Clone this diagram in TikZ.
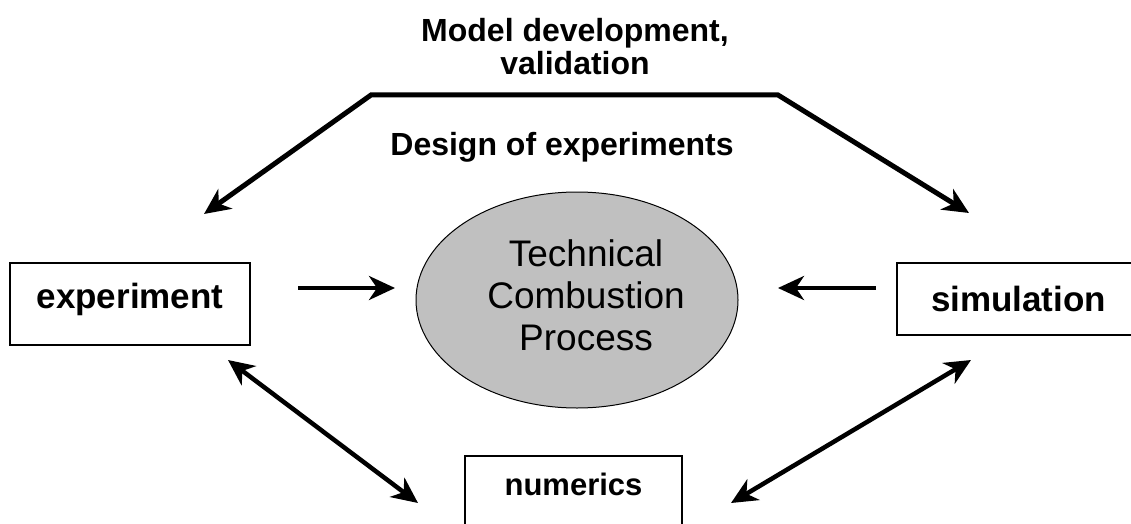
\documentclass[tikz,border=0pt]{standalone}
\usepackage{fontspec}
\setmainfont{Liberation Sans}
\usetikzlibrary{shapes,arrows.meta}
\definecolor{procgray}{RGB}{192,192,192}

\begin{document}
\begin{tikzpicture}[x=1pt, y=-1pt,
      every node/.append style={font=\bfseries\fontsize{32}{33}\selectfont},
      box/.style={draw, line width=1.5pt, inner sep=0pt, font=\bfseries\fontsize{35}{36}\selectfont},
      link/.style={line width=4pt, -{Stealth[length=26pt,width=24pt,inset=8pt]}},
      twoway/.style={line width=4.5pt, {Stealth[length=26pt,width=24pt,inset=8pt]}-{Stealth[length=26pt,width=24pt,inset=8pt]}}]
    \tikzstyle{big} = [font=\fontsize{37}{42}\selectfont]
    \useasboundingbox (0,0) rectangle (1131,524);
    \node (process) [ellipse, draw, line width=1pt, fill=procgray, minimum width=322pt,
      minimum height=216pt] at (577,300) {};
    \node (process-text) [align=center, big] at ([xshift=9pt, yshift=5pt]process.center) {Technical\\Combustion\\Process};
    \node (develop) [align=center] at (575,47) {Model development,\\validation};
    \node (design) at (562,147) {Design of experiments};
    \node (experiment) [box, minimum width=240pt, minimum height=82pt,
      text height=26pt, text depth=18pt] at (130,304) {experiment};
    \node (simulation) [box, minimum width=243pt, minimum height=72pt] at (1018.5,299) {simulation};
    \node (numerics) [box, anchor=north, minimum width=217pt, text height=40pt, text depth=40pt,
      font=\bfseries\fontsize{31}{32}\selectfont] at (573.5,455) {numerics};
    \coordinate (tipL) at (204,214);
    \coordinate (kneeL) at (371,95);
    \coordinate (kneeR) at (778,95);
    \coordinate (tipR) at (969,213);
    \coordinate (exp-out) at (298,288);
    \coordinate (exp-in) at (395,288);
    \coordinate (sim-out) at (876,288);
    \coordinate (sim-in) at (778,288);
    \coordinate (exp-num) at (228,360);
    \coordinate (num-exp) at (418,503);
    \coordinate (sim-num) at (971,360);
    \coordinate (num-sim) at (731,503);
    \draw [twoway, line width=5pt] (tipL) -- (kneeL) -- (kneeR) -- (tipR);
    \draw [link] (exp-out) -- (exp-in);
    \draw [link] (sim-out) -- (sim-in);
    \draw [twoway] (exp-num) -- (num-exp);
    \draw [twoway] (sim-num) -- (num-sim);
\end{tikzpicture}
\end{document}
